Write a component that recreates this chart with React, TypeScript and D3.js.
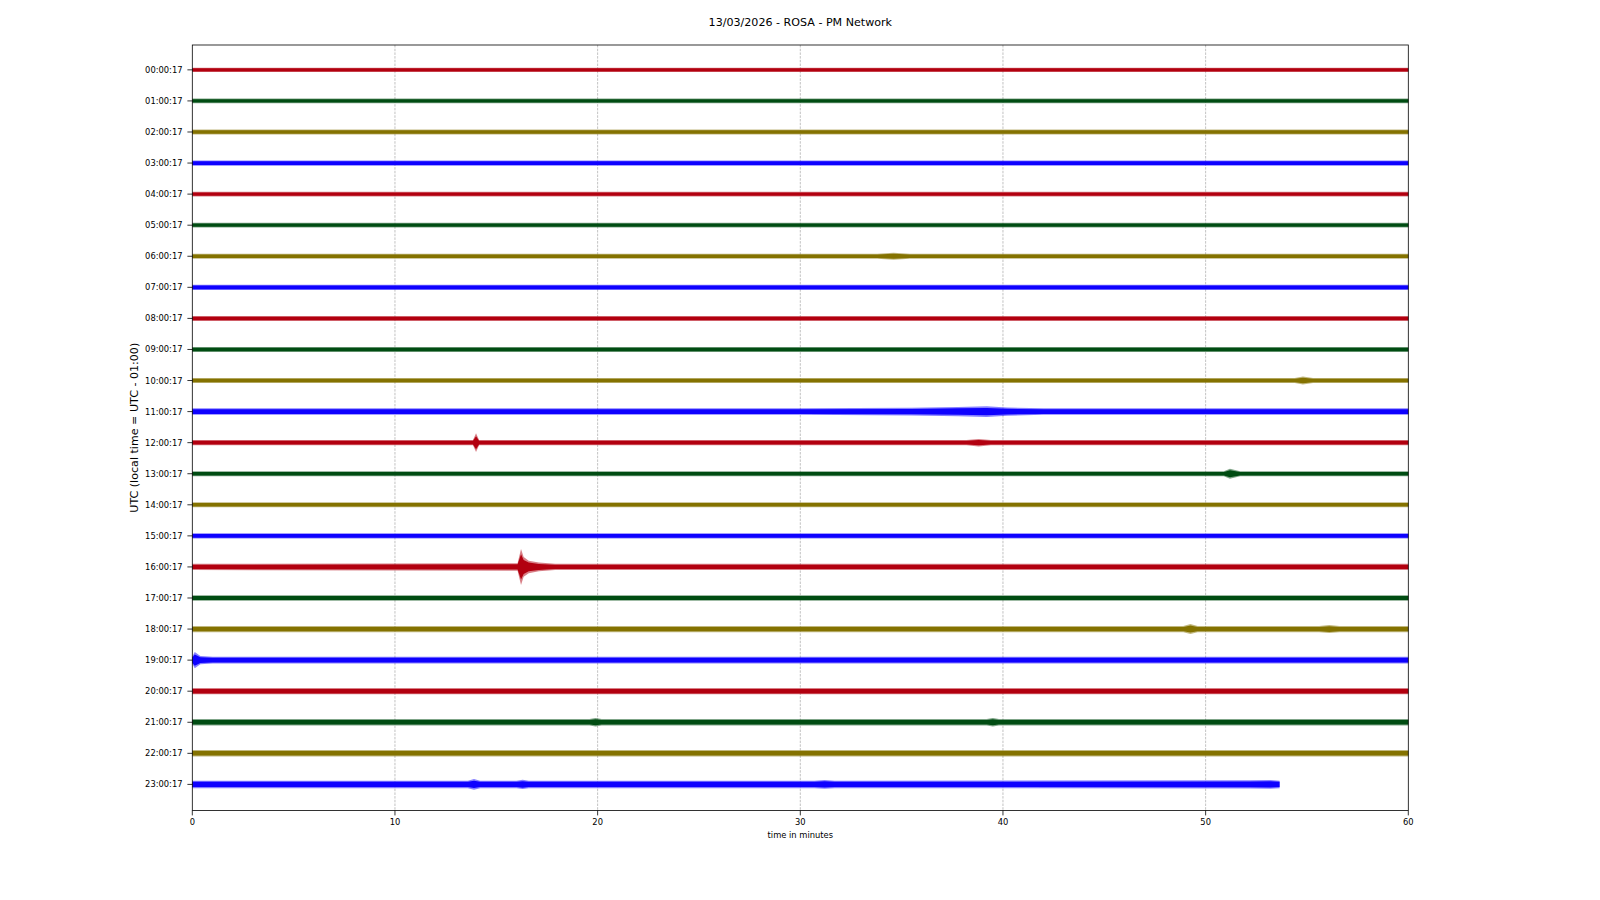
import React from "react";
import * as d3 from "d3";

// ---- data ----
const chartTitle = "13/03/2026 - ROSA - PM Network";
const rowLabels = [
  "00:00:17", "01:00:17", "02:00:17", "03:00:17", "04:00:17", "05:00:17",
  "06:00:17", "07:00:17", "08:00:17", "09:00:17", "10:00:17", "11:00:17",
  "12:00:17", "13:00:17", "14:00:17", "15:00:17", "16:00:17", "17:00:17",
  "18:00:17", "19:00:17", "20:00:17", "21:00:17", "22:00:17", "23:00:17",
];
const traceColors = ["#B2000F", "#004C12", "#847200", "#0E01FF"];
const xTicks = [0, 10, 20, 30, 40, 50, 60];

// background noise half-amplitude of each hourly trace (in row-spacing units)
const noiseAmp = [
  0.07, 0.075, 0.08, 0.085, 0.075, 0.075, 0.08, 0.085, 0.08, 0.08, 0.08, 0.105,
  0.085, 0.08, 0.08, 0.085, 0.1, 0.09, 0.1, 0.105, 0.1, 0.105, 0.105, 0.12,
];
// minute at which each trace ends
const traceEnd = [
  60, 60, 60, 60, 60, 60, 60, 60, 60, 60, 60, 60,
  60, 60, 60, 60, 60, 60, 60, 60, 60, 60, 60, 53.65,
];
// envelope readings [row, minute, half-amplitude] for visible events
const eventPoints: [number, number, number][] = [
  [6, 33.8, 0.08], [6, 34.6, 0.11], [6, 35.4, 0.08],
  [10, 54.4, 0.08], [10, 54.8, 0.13], [10, 55.3, 0.08],
  [11, 30, 0.105], [11, 35.5, 0.125], [11, 37.8, 0.15], [11, 39.2, 0.17], [11, 40.2, 0.13], [11, 42, 0.105],
  [12, 13.85, 0.085], [12, 14.0, 0.3], [12, 14.15, 0.085], [12, 38.2, 0.085], [12, 38.8, 0.12], [12, 39.4, 0.085],
  [13, 50.9, 0.08], [13, 51.2, 0.16], [13, 51.7, 0.08],
  [16, 16.05, 0.12], [16, 16.22, 0.58], [16, 16.35, 0.32], [16, 16.6, 0.2], [16, 17.1, 0.14], [16, 17.9, 0.1],
  [18, 48.9, 0.1], [18, 49.25, 0.16], [18, 49.6, 0.1], [18, 55.6, 0.1], [18, 56.1, 0.13], [18, 56.6, 0.1],
  [19, 0, 0.12], [19, 0.12, 0.26], [19, 0.4, 0.13], [19, 1.0, 0.105],
  [21, 19.6, 0.105], [21, 19.9, 0.14], [21, 20.2, 0.105], [21, 39.2, 0.105], [21, 39.5, 0.14], [21, 39.8, 0.105],
  [23, 13.6, 0.12], [23, 13.9, 0.17], [23, 14.2, 0.12], [23, 16.0, 0.12], [23, 16.3, 0.15], [23, 16.6, 0.12],
  [23, 30.7, 0.12], [23, 31.2, 0.14], [23, 31.7, 0.12], [23, 52.2, 0.13], [23, 53.2, 0.14],
];

// ---- layout ----
const W = 1600;
const H = 900;
const left = 192.3;
const right = 1408.3;
const top = 45;
const bottom = 810.5;
const FONT = "DejaVu Sans, sans-serif";

export default function App() {
  const x = d3.scaleLinear().domain([0, 60]).range([left, right]);
  const y = d3.scaleLinear().domain([-0.8, 23.84]).range([top, bottom]);

  const envelopes = rowLabels.map((_, r) => {
    const pts: [number, number][] = [[0, noiseAmp[r]]];
    eventPoints.filter((e) => e[0] === r).forEach((e) => pts.push([e[1], e[2]]));
    pts.push([traceEnd[r], noiseAmp[r]]);
    pts.sort((a, b) => a[0] - b[0]);
    return pts;
  });

  const areaFor = (r: number, k: number) =>
    d3
      .area<[number, number]>()
      .x((d) => x(d[0]))
      .y0((d) => y(r - d[1] * k))
      .y1((d) => y(r + d[1] * k))
      .curve(d3.curveLinear);

  return (
    <svg
      width={W}
      height={H}
      style={{ position: "absolute", left: 0, top: 0, background: "#fff" }}
      fontFamily={FONT}
    >
      <rect x={0} y={0} width={W} height={H} fill="#fff" />
      <text x={(left + right) / 2} y={26} textAnchor="middle" fontSize={11.1} fill="#000">
        {chartTitle}
      </text>

      {/* grid */}
      {xTicks.slice(1, -1).map((t) => (
        <line
          key={"g" + t}
          x1={x(t)}
          x2={x(t)}
          y1={top}
          y2={bottom}
          stroke="#a8a8a8"
          strokeWidth={0.7}
          strokeDasharray="2.5,1.2"
        />
      ))}

      {/* traces */}
      {envelopes.map((pts, r) => {
        const c = traceColors[r % 4];
        return (
          <g key={"t" + r}>
            <path d={areaFor(r, 1)(pts) || ""} fill={c} opacity={0.5} />
            <path d={areaFor(r, 0.7)(pts) || ""} fill={c} />
          </g>
        );
      })}

      {/* spines */}
      <rect x={left} y={top} width={right - left} height={bottom - top} fill="none" stroke="#000" strokeWidth={0.8} />

      {/* x ticks */}
      {xTicks.map((t) => (
        <g key={"x" + t}>
          <line x1={x(t)} x2={x(t)} y1={bottom} y2={bottom + 4.9} stroke="#000" strokeWidth={0.8} />
          <text x={x(t)} y={bottom + 14} textAnchor="middle" fontSize={8.33} fill="#000">
            {t}
          </text>
        </g>
      ))}
      <text x={(left + right) / 2} y={838} textAnchor="middle" fontSize={8.33} fill="#000">
        time in minutes
      </text>

      {/* y ticks */}
      {rowLabels.map((l, r) => (
        <g key={"y" + r}>
          <line x1={left - 4.9} x2={left} y1={y(r)} y2={y(r)} stroke="#000" strokeWidth={0.8} />
          <text x={left - 9.8} y={y(r) + 3} textAnchor="end" fontSize={8.33} fill="#000">
            {l}
          </text>
        </g>
      ))}
      <text
        transform={`translate(138, ${(top + bottom) / 2}) rotate(-90)`}
        textAnchor="middle"
        fontSize={11.1}
        fill="#000"
      >
        UTC (local time = UTC - 01:00)
      </text>
    </svg>
  );
}
